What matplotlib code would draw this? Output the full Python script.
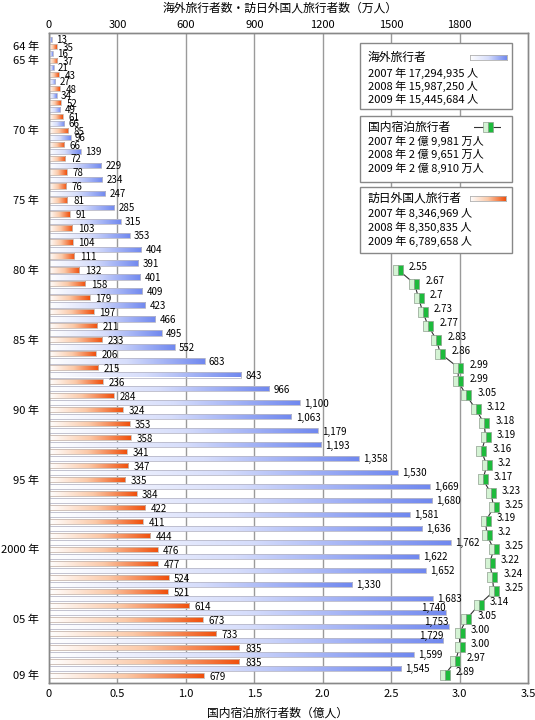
import numpy as np
import matplotlib
matplotlib.use("Agg")
import matplotlib.pyplot as plt
from matplotlib.colors import LinearSegmentedColormap
from matplotlib.patches import Rectangle

plt.rcParams['font.family'] = ['Noto Sans CJK JP', 'DejaVu Sans']

years = list(range(1964, 2010))
year_labels = {1964: "64 年", 1965: "65 年", 1970: "70 年", 1975: "75 年", 1980: "80 年",
               1985: "85 年", 1990: "90 年", 1995: "95 年", 2000: "2000 年", 2005: "05 年",
               2009: "09 年"}

# 海外旅行者 (万人)
outbound = [13, 16, 21, 27, 34, 49, 66, 96, 139, 229, 234, 247, 285, 315, 353, 404,
            391, 401, 409, 423, 466, 495, 552, 683, 843, 966, 1100, 1063, 1179, 1193,
            1358, 1530, 1669, 1680, 1581, 1636, 1762, 1622, 1652, 1330, 1683, 1740,
            1753, 1729, 1599, 1545]
# 訪日外国人旅行者 (万人)
inbound = [35, 37, 43, 48, 52, 61, 85, 66, 72, 78, 76, 81, 91, 103, 104, 111, 132, 158,
           179, 197, 211, 233, 206, 215, 236, 284, 324, 353, 358, 341, 347, 335, 384,
           422, 411, 444, 476, 477, 524, 521, 614, 673, 733, 835, 835, 679]
# 国内宿泊旅行者 (億人), 1980-2009
dom_years = list(range(1980, 2010))
domestic = [2.55, 2.67, 2.7, 2.73, 2.77, 2.83, 2.86, 2.99, 2.99, 3.05, 3.12, 3.18, 3.19,
            3.16, 3.2, 3.17, 3.23, 3.25, 3.19, 3.2, 3.25, 3.22, 3.24, 3.25, 3.14, 3.05,
            3.00, 3.00, 2.97, 2.89]
dom_text = ["2.55", "2.67", "2.7", "2.73", "2.77", "2.83", "2.86", "2.99", "2.99", "3.05",
            "3.12", "3.18", "3.19", "3.16", "3.2", "3.17", "3.23", "3.25", "3.19", "3.2",
            "3.25", "3.22", "3.24", "3.25", "3.14", "3.05", "3.00", "3.00", "2.97", "2.89"]

legend_out = ["2007 年 17,294,935 人", "2008 年 15,987,250 人", "2009 年 15,445,684 人"]
legend_dom = ["2007 年 2 億 9,981 万人", "2008 年 2 億 9,651 万人", "2009 年 2 億 8,910 万人"]
legend_in = ["2007 年 8,346,969 人", "2008 年 8,350,835 人", "2009 年 6,789,658 人"]

W, H = 535, 720
fig = plt.figure(figsize=(W / 100, H / 100), dpi=100)
ax = fig.add_axes([49 / W, (H - 683) / H, (528 - 49) / W, (683 - 33) / H])
ax2 = ax.twiny()

blue_cm = LinearSegmentedColormap.from_list("b", ["#ffffff", "#d6ddfb", "#7088ef"])
orange_cm = LinearSegmentedColormap.from_list("o", ["#ffffff", "#fbc9a8", "#f0500c"])
grad = np.linspace(0, 1, 256).reshape(1, -1)

idx = np.arange(len(years))
bh = 0.37
b_out = ax2.barh(idx - 0.47, outbound, height=bh, facecolor='none',
                 edgecolor='#b8b8c8', lw=0.6, zorder=3)
b_in = ax2.barh(idx + 0.02, inbound, height=bh, facecolor='none',
                edgecolor='#c8b8b0', lw=0.6, zorder=3)
for bars, cm in ((b_out, blue_cm), (b_in, orange_cm)):
    for b in bars:
        im = ax2.imshow(grad, cmap=cm, aspect='auto', zorder=2,
                        extent=[b.get_x(), b.get_x() + b.get_width(),
                                b.get_y() + b.get_height(), b.get_y()])
        im.set_clip_path(b)

for i, v in enumerate(outbound):
    y = years[i]
    if y in (2005, 2006, 2007):
        ax2.annotate(f"{v:,}", (v, i - 0.47), xytext=(0, 3), textcoords='offset points',
                     ha='right', va='center', fontsize=7)
    else:
        ax2.annotate(f"{v:,}", (v, i - 0.47), xytext=(3, -0.5), textcoords='offset points',
                     ha='left', va='center', fontsize=7)
for i, v in enumerate(inbound):
    ax2.annotate(f"{v:,}", (v, i + 0.02), xytext=(4, -1), textcoords='offset points',
                 ha='left', va='center', fontsize=7)

ax2.set_xlim(0, 2100)
ax2.set_xticks([0, 300, 600, 900, 1200, 1500, 1800])
ax2.grid(axis='x', color='#9a9a9a', lw=1)
ax2.set_axisbelow(True)
ax2.tick_params(length=0, labelsize=8, pad=2)

# domestic line on top
ax.set_zorder(ax2.get_zorder() + 1)
ax.patch.set_visible(False)
dom_idx = [years.index(y) for y in dom_years]
ax.plot(domestic, dom_idx, color='#333333', lw=0.8, zorder=4,
        marker='s', markersize=7.5, fillstyle='left', markerfacecolor='#d4f3d4',
        markerfacecoloralt='#1dbb3c', markeredgecolor='#8fa08f', markeredgewidth=0.5)
for v, i, t in zip(domestic, dom_idx, dom_text):
    ax.annotate(t, (v, i), xytext=(8, 2), textcoords='offset points',
                ha='left', va='center', fontsize=7)

ax.set_xlim(0, 3.5)
ax.set_xticks(np.arange(0, 3.51, 0.5))
ax.set_xticklabels(["0", "0.5", "1.0", "1.5", "2.0", "2.5", "3.0", "3.5"])
ax.set_ylim(45.57, -0.93)
ax2.set_ylim(45.57, -0.93)
ax.set_yticks([years.index(y) for y in year_labels])
ax.set_yticklabels(list(year_labels.values()))
ax.tick_params(length=0, labelsize=8, pad=4)
ax.tick_params(axis='y', labelsize=8, pad=7)
for a in (ax, ax2):
    for s in a.spines.values():
        s.set_color('#888888')
        s.set_linewidth(1)

fig.text(280 / W, 1 - 8 / H, "海外旅行者数・訪日外国人旅行者数（万人）", ha='center', va='center', fontsize=8.5)
fig.text(278 / W, 1 - 713 / H, "国内宿泊旅行者数（億人）", ha='center', va='center', fontsize=8.5)


def fx(px):
    return px / W


def fy(py):
    return 1 - py / H


def legend_box(top, bottom, title, lines, title_y, line_ys):
    fig.patches.append(Rectangle((fx(360), fy(bottom)), fx(512) - fx(360), fy(top) - fy(bottom),
                                 transform=fig.transFigure, facecolor='white',
                                 edgecolor='#888888', lw=1, zorder=10))
    fig.text(fx(368), fy(title_y), title, ha='left', va='center', fontsize=8.5, zorder=11)
    for t, yy in zip(lines, line_ys):
        fig.text(fx(368), fy(yy), t, ha='left', va='center', fontsize=8, zorder=11)


legend_box(43, 109, "海外旅行者", legend_out, 57, [73, 86, 99])
legend_box(116, 182, "国内宿泊旅行者", legend_dom, 127, [141, 154, 168])
legend_box(187, 253, "訪日外国人旅行者", legend_in, 198, [213, 227, 241])

# swatches
sw1 = fig.add_axes([fx(470), fy(60), fx(507) - fx(470), fy(55) - fy(60)], zorder=12)
sw1.imshow(grad, cmap=blue_cm, aspect='auto')
sw3 = fig.add_axes([fx(470), fy(201), fx(506) - fx(470), fy(196) - fy(201)], zorder=12)
sw3.imshow(grad, cmap=orange_cm, aspect='auto')
for s in (sw1, sw3):
    s.set_xticks([])
    s.set_yticks([])
    for sp in s.spines.values():
        sp.set_color('#b0b0b0')
        sp.set_linewidth(0.6)
sw2 = fig.add_axes([fx(474), fy(132), fx(501) - fx(474), fy(122) - fy(132)], zorder=12)
sw2.plot([0, 1], [0.5, 0.5], color='#333333', lw=0.8)
sw2.plot([0.5], [0.5], marker='s', markersize=7, fillstyle='left', markerfacecolor='#d4f3d4',
         markerfacecoloralt='#1dbb3c', markeredgecolor='#8fa08f', markeredgewidth=0.5)
sw2.set_xlim(0, 1)
sw2.set_ylim(0, 1)
sw2.axis('off')

fig.savefig("out.png", dpi=100)
